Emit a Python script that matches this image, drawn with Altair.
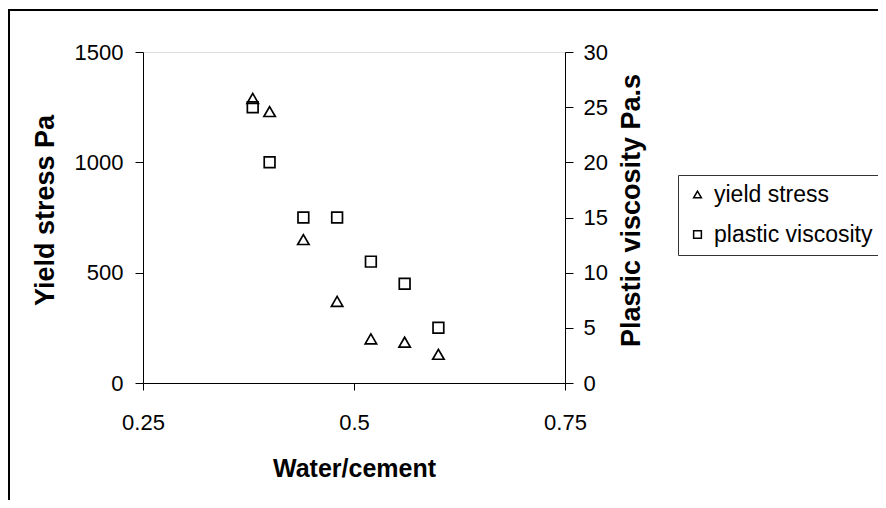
import altair as alt
import pandas as pd

# Data
water_cement = [0.38, 0.40, 0.44, 0.48, 0.52, 0.56, 0.60]
yield_stress = [1290, 1230, 650, 370, 200, 185, 130]
plastic_viscosity = [25, 20, 15, 15, 11, 9, 5]
series_names = ["yield stress", "plastic viscosity"]
x_ticks = [0.25, 0.5, 0.75]
left_ticks = [0, 500, 1000, 1500]
right_ticks = [0, 5, 10, 15, 20, 25, 30]

df_y = pd.DataFrame({"wc": water_cement, "val": yield_stress, "series": series_names[0]})
df_p = pd.DataFrame({"wc": water_cement, "val": plastic_viscosity, "series": series_names[1]})

FONT = "Liberation Sans"
LBL = 22
TTL = 25
YTTL = 27

x_enc = alt.X(
    "wc:Q",
    scale=alt.Scale(domain=[0.25, 0.75], nice=False, zero=False),
    axis=alt.Axis(
        values=x_ticks, format=".2~f", title="Water/cement",
        tickSize=7, labelPadding=22, labelFlush=False,
        titleX=211, titleY=85, titleBaseline="middle", titleAlign="center",
        labelFont=FONT, labelFontSize=LBL, labelColor="black",
        titleFont=FONT, titleFontSize=TTL, titleFontWeight="bold", titleColor="black",
        domainColor="black", tickColor="black", grid=False,
    ),
)

shape_enc = alt.Shape(
    "series:N",
    scale=alt.Scale(domain=series_names, range=["triangle-up", "square"]),
    legend=alt.Legend(
        title=None, orient="none", legendX=535, legendY=123,
        labelFont=FONT, labelFontSize=23, labelColor="black",
        symbolSize=60, symbolStrokeWidth=1.5, symbolStrokeColor="black",
        symbolFillColor="transparent", symbolOpacity=1,
        strokeColor="#333", padding=8, rowPadding=16, labelOffset=5,
    ),
)

pts_y = alt.Chart(df_y).mark_point(
    filled=False, color="black", size=130, strokeWidth=1.7, opacity=1
).encode(
    x=x_enc,
    y=alt.Y(
        "val:Q",
        scale=alt.Scale(domain=[0, 1500], nice=False),
        axis=alt.Axis(
            values=left_ticks, format="d", title="Yield stress Pa", orient="left",
            tickSize=8, labelPadding=12, labelFlush=False,
            titleX=-98, titleY=158, titleAngle=270, titleBaseline="middle", titleAlign="center",
            labelFont=FONT, labelFontSize=LBL, labelColor="black",
            titleFont=FONT, titleFontSize=YTTL, titleFontWeight="bold", titleColor="black",
            domainColor="black", tickColor="black", grid=False,
        ),
    ),
    shape=shape_enc,
)

pts_p = alt.Chart(df_p).mark_point(
    filled=False, color="black", size=115, strokeWidth=1.7, opacity=1
).encode(
    x=x_enc,
    y=alt.Y(
        "val:Q",
        scale=alt.Scale(domain=[0, 30], nice=False),
        axis=alt.Axis(
            values=right_ticks, format="d", title="Plastic viscosity Pa.s", orient="right",
            tickSize=8, labelPadding=10, labelFlush=False,
            titleX=66, titleY=158, titleAngle=270, titleBaseline="middle", titleAlign="center",
            labelFont=FONT, labelFontSize=LBL, labelColor="black",
            titleFont=FONT, titleFontSize=YTTL, titleFontWeight="bold", titleColor="black",
            domainColor="black", tickColor="black", grid=False,
        ),
    ),
    shape=shape_enc,
)

frame_top = alt.Chart(df_y).mark_rule(color="black", strokeWidth=2).encode(
    x=alt.value(-135), x2=alt.value(760), y=alt.value(-42)
)
frame_left = alt.Chart(df_y).mark_rule(color="black", strokeWidth=2).encode(
    x=alt.value(-134), y=alt.value(-43), y2=alt.value(460)
)

chart = (
    alt.layer(pts_y, pts_p, frame_top, frame_left)
    .resolve_scale(y="independent")
    .properties(
        width=422, height=331,
        autosize=alt.AutoSizeParams(type="none"),
        padding={"left": 135, "top": 44, "right": 313, "bottom": 117},
    )
    .configure_view(stroke="#888888", strokeWidth=1)
    .configure(background="white")
)

chart.save("out.html", embed_options={"renderer": "svg", "actions": False})
